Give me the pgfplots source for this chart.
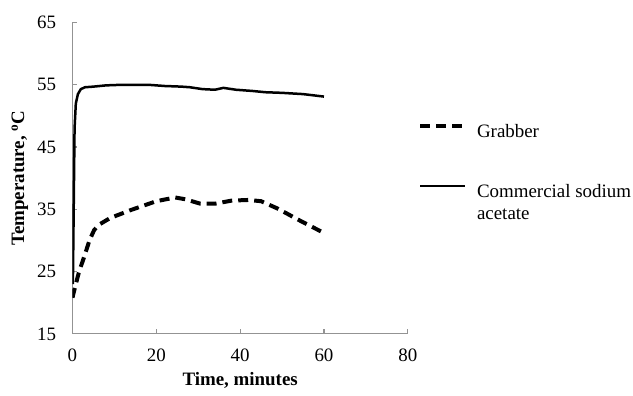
\documentclass[border=0pt]{standalone}
\usepackage{fontspec}
\setmainfont{Liberation Serif}
\usepackage{pgfplots}
\pgfplotsset{compat=1.18}
\begin{document}
\fontsize{19}{22}\selectfont
\begin{tikzpicture}
\begin{axis}[
  at={(0,0)}, anchor=south west,
  scale only axis,
  width=335.5bp, height=311.5bp,
  xmin=0, xmax=80, ymin=15, ymax=65,
  xtick={0,20,40,60,80}, ytick={15,25,35,45,55,65},
  axis x line*=bottom, axis y line*=left,
  axis line style={draw=gray!85, line width=1.2pt, -},
  tick style={draw=gray!85, line width=1.2pt},
  tick align=inside, major tick length=5bp,
  /pgf/number format/assume math mode=true,
  yticklabel style={anchor=east, xshift=-10bp},
  xticklabel style={anchor=north, yshift=-9bp},
  xlabel={\textbf{Time, minutes}},
  ylabel={\textbf{Temperature, \textsuperscript{o}C}},
  xlabel style={at={(axis description cs:0.5,-0.1509)}, anchor=center},
  ylabel style={at={(axis description cs:-0.1565,0.5)}, anchor=center},
  legend style={at={(1.03,0.68)}, anchor=north west, draw=none, fill=none,
    row sep=40bp, inner sep=0pt, column sep=8bp},
  legend cell align=left,
  legend image code/.code={\draw[#1] (0bp,0.32em) -- (45bp,0.32em);},
]
\addplot[black, line width=4bp, dash pattern=on 10bp off 6bp] coordinates {
(0,20.8)(0.5,22.2)(1.5,24.8)(3,27.8)(4.1,30.1)(5.2,31.7)(6.5,32.6)(9,33.6)(14,34.9)(20,36.3)(24.5,36.9)(27,36.6)(30.5,35.9)(34,35.9)(38,36.4)(42,36.5)(45,36.3)(49,35.1)(54.5,33.1)(60,31.2)};
\addlegendentry{Grabber}
\addplot[black, line width=2.5bp] coordinates {
(0.1,23)(0.5,48)(0.8,52)(1.3,53.5)(2,54.3)(3,54.6)(5,54.7)(8,54.9)(12,55)(18,55)(22,54.8)(26,54.7)(28,54.6)(31,54.3)(34,54.2)(36,54.5)(39,54.2)(43,54)(46,53.8)(50,53.7)(55,53.5)(60,53.1)};
\addlegendentry{\vtop{\baselineskip=22bp\hbox{Commercial sodium}\hbox{acetate}}}
\end{axis}
\path[use as bounding box] (-72.5bp,-60bp) rectangle (560.5bp,311.5bp+22.5bp);
\end{tikzpicture}
\end{document}
